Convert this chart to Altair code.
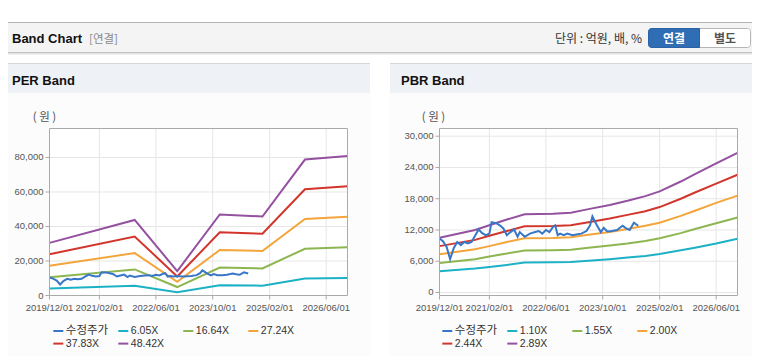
import altair as alt
import pandas as pd

OFF = 8  # page margin: page coordinates -> chart coordinates

# ---------------- data ----------------
band_colors = ["#1db1c6", "#8db650", "#f4a53a", "#d2352b", "#94519f"]
price_color = "#3876c8"

per_dates = ["2019-12-01", "2021-12-01", "2022-12-01", "2023-12-01",
             "2024-12-01", "2025-12-01", "2026-12-01"]
per_labels = ["6.05X", "16.64X", "27.24X", "37.83X", "48.42X"]
per_605 = [4000, 5600, 1900, 5900, 5700, 9900, 10200]
per_1664 = [10600, 15100, 4900, 16200, 15700, 27100, 28000]
per_2724 = [17200, 24600, 7900, 26400, 25800, 44300, 45600]
per_3783 = [23900, 34200, 11000, 36700, 35800, 61600, 63300]
per_4842 = [30500, 43800, 14100, 47000, 45800, 78800, 80900]

pbr_dates = ["2019-12-01", "2020-10-01", "2021-02-01", "2021-07-01", "2021-12-01",
             "2022-08-01", "2023-01-01", "2023-06-01", "2023-12-01", "2024-05-01",
             "2024-10-01", "2025-02-01", "2025-08-01", "2025-12-01", "2026-06-01",
             "2026-12-01"]
pbr_labels = ["1.10X", "1.55X", "2.00X", "2.44X", "2.89X"]
pbr_110 = [4100, 4600, 4900, 5300, 5750, 5800, 5850, 6100, 6400, 6700, 7000, 7400, 8100, 8600, 9400, 10300]
pbr_155 = [5650, 6400, 6900, 7500, 8050, 8100, 8200, 8600, 9000, 9400, 9900, 10400, 11400, 12200, 13300, 14400]
pbr_200 = [7350, 8300, 8900, 9700, 10400, 10450, 10600, 11100, 11600, 12200, 12800, 13400, 14700, 15700, 17200, 18600]
pbr_244 = [8900, 10100, 10900, 11800, 12700, 12750, 12900, 13500, 14200, 14900, 15600, 16400, 18000, 19200, 20900, 22600]
pbr_289 = [10500, 12000, 12900, 14000, 15000, 15100, 15300, 16000, 16800, 17600, 18500, 19400, 21300, 22700, 24800, 26800]

price_dates = ["2019-12-01", "2020-01-01", "2020-02-01", "2020-03-01", "2020-04-01",
               "2020-05-01", "2020-06-01", "2020-07-01", "2020-08-01", "2020-09-01",
               "2020-10-01", "2020-11-01", "2020-12-01", "2021-01-01", "2021-02-01",
               "2021-02-20", "2021-04-01", "2021-05-01", "2021-06-01", "2021-07-01",
               "2021-08-01", "2021-09-01", "2021-10-01", "2021-10-20", "2021-12-01",
               "2022-01-15", "2022-03-01", "2022-04-01", "2022-05-01", "2022-06-01",
               "2022-07-01", "2022-08-01", "2022-08-20", "2022-09-10", "2022-10-01",
               "2022-11-01", "2022-12-01", "2023-01-15", "2023-03-01", "2023-04-01",
               "2023-05-15", "2023-06-15", "2023-07-05", "2023-08-10", "2023-09-15",
               "2023-10-10", "2023-11-10", "2023-12-20", "2024-02-01", "2024-03-20",
               "2024-04-20", "2024-05-20", "2024-06-25", "2024-08-01"]
price_values = [10400, 9800, 8700, 6400, 8500,
                9700, 9100, 9700, 9400, 9700,
                10900, 12100, 11400, 11000, 11300,
                13500, 13300, 12900, 12300, 11000,
                11600, 12100, 10700, 11600, 10700,
                11300, 11600, 11800, 11300, 12000,
                11600, 12600, 12900, 11000, 11300,
                11000, 11300, 11000, 11200, 11300,
                11800, 12900, 14600, 13000, 11600,
                12400, 11700, 11800, 12000, 12800,
                12300, 12000, 13400, 12800]

x_tick_dates = ["2019-12-01", "2021-02-01", "2022-06-01", "2023-10-01",
                "2025-02-01", "2026-06-01"]
per_yticks = [0, 20000, 40000, 60000, 80000]
pbr_yticks = [0, 6000, 12000, 18000, 24000, 30000]
x_start, x_end = "2019-12-01", "2026-12-01"
price_label = "수정주가"

FONT = "Liberation Sans"
KFONT = "'Noto Sans CJK KR'"

PLOT_BOTTOM = 287.5  # chart coords (page 295.5)
PLOT_TOP = 120.5


def bands_df(dates, labels, series):
    rows = []
    for lab, vals, col in zip(labels, series, band_colors):
        for d, v in zip(dates, vals):
            rows.append({"date": d, "value": v, "series": lab, "color": col})
    return pd.DataFrame(rows)


price_df = pd.DataFrame({"date": price_dates, "value": price_values})
one = pd.DataFrame({"k": [0]})


def panel(bands, xr, ydom, yticks):
    xs = alt.Scale(type="utc", domain=[x_start, x_end], range=xr)
    ys = alt.Scale(domain=ydom, range=[PLOT_BOTTOM, PLOT_TOP], nice=False, zero=False)
    X = lambda f: alt.X(f, scale=xs, axis=None)
    Y = lambda f: alt.Y(f, scale=ys, axis=None)

    frame_df = pd.DataFrame({"x0": [x_start], "x1": [x_end],
                             "y0": [ydom[0]], "y1": [ydom[1]]})
    frame_fill = alt.Chart(frame_df).mark_rect(fill="white", strokeWidth=0).encode(
        x=X("x0:T"), x2="x1:T", y=Y("y0:Q"), y2="y1:Q")

    xt = pd.DataFrame({"d": x_tick_dates, "y0": ydom[0], "y1": ydom[1],
                       "lab": [s.replace("-", "/") for s in x_tick_dates]})
    vgrid = alt.Chart(xt).mark_rule(color="#e6e6e6", strokeWidth=1).encode(
        x=X("d:T"), y=Y("y0:Q"), y2="y1:Q")
    yt = pd.DataFrame({"v": yticks, "x0": x_start, "x1": x_end})
    hgrid = alt.Chart(yt).mark_rule(color="#e6e6e6", strokeWidth=1).encode(
        y=Y("v:Q"), x=X("x0:T"), x2="x1:T")

    lines = alt.Chart(bands).mark_line(strokeWidth=2).encode(
        x=X("date:T"), y=Y("value:Q"), detail="series:N",
        color=alt.Color("color:N", scale=None))
    price = alt.Chart(price_df).mark_line(strokeWidth=2, color=price_color).encode(
        x=X("date:T"), y=Y("value:Q"))
    frame_stroke = alt.Chart(frame_df).mark_rect(fillOpacity=0, stroke="#aaaaaa",
                                                 strokeWidth=1).encode(
        x=X("x0:T"), x2="x1:T", y=Y("y0:Q"), y2="y1:Q")

    # axes: ticks and labels placed through the scales
    xticks = alt.Chart(xt).mark_rule(color="#aaaaaa", strokeWidth=1).encode(
        x=X("d:T"), y=alt.value(PLOT_BOTTOM), y2=alt.value(PLOT_BOTTOM + 4))
    xlabels = alt.Chart(xt).mark_text(font=FONT, fontSize=9.5, color="#555555",
                                      align="center", baseline="top").encode(
        x=X("d:T"), y=alt.value(PLOT_BOTTOM + 7), text="lab:N")
    yticks_m = alt.Chart(yt).mark_rule(color="#aaaaaa", strokeWidth=1).encode(
        y=Y("v:Q"), x=alt.value(xr[0] - 4), x2=alt.value(xr[0]))
    ylabels = alt.Chart(yt).mark_text(font=FONT, fontSize=9.5, color="#555555",
                                      align="right", baseline="middle").encode(
        y=Y("v:Q"), x=alt.value(xr[0] - 6), text=alt.Text("v:Q", format=","))
    return alt.layer(frame_fill, vgrid, hgrid, lines, price, frame_stroke,
                     xticks, xlabels, yticks_m, ylabels)


per_panel = panel(bands_df(per_dates, per_labels,
                           [per_605, per_1664, per_2724, per_3783, per_4842]),
                  [41.5, 339.5], [0, 96800], per_yticks)
pbr_panel = panel(bands_df(pbr_dates, pbr_labels,
                           [pbr_110, pbr_155, pbr_200, pbr_244, pbr_289]),
                  [431.5, 729.5], [-576, 31478], pbr_yticks)


# ---------------- decorations (page coordinates) ----------------
def rect(x0, y0, x1, y1, **kw):
    return alt.Chart(one).mark_rect(**kw).encode(
        x=alt.value(x0 - OFF), x2=alt.value(x1 - OFF),
        y=alt.value(y0 - OFF), y2=alt.value(y1 - OFF))


def text(t, x, y, **kw):
    return alt.Chart(one).mark_text(text=t, **kw).encode(
        x=alt.value(x - OFF), y=alt.value(y - OFF))


deco = [
    rect(0, 22, 770, 23, fill="#b3b3b3"),
    rect(0, 23, 770, 52, fill="#f4f4f4"),
    rect(0, 52, 770, 53, fill="#c4c4c4"),
    rect(0, 53, 770, 54, fill="#e2e2e2"),
    rect(0, 54, 770, 55, fill="#f2f2f2"),
    text("Band Chart", 12, 43, font=FONT, fontSize=13, fontWeight="bold",
         color="#111111", align="left", baseline="alphabetic"),
    text("[연결]", 89, 42.5, font=KFONT, fontSize=11.5, color="#8a8a8a",
         align="left", baseline="alphabetic"),
    text("단위 : 억원, 배, %", 642, 42.5, font=KFONT, fontSize=12,
         color="#333333", align="right", baseline="alphabetic"),
    rect(648.5, 28.5, 750.5, 47.5, fill="white", stroke="#b5b5b5", strokeWidth=1,
         cornerRadius=3),
    rect(648.5, 28.5, 699.5, 47.5, fill="#2f6db4", stroke="#2a62a3", strokeWidth=1,
         cornerRadiusTopLeft=3, cornerRadiusBottomLeft=3),
    text("연결", 674, 38.5, font=KFONT, fontSize=12, fontWeight="bold",
         color="white", align="center", baseline="middle"),
    text("별도", 725, 38.5, font=KFONT, fontSize=12, fontWeight="bold",
         color="#555555", align="center", baseline="middle"),
    # panels
    rect(0, 63, 370, 64, fill="#d6d6d6"),
    rect(0, 64, 370, 93, fill="#eef1f6"),
    rect(0, 93, 370, 370, fill="#fcfcfc"),
    rect(390, 63, 770, 64, fill="#d6d6d6"),
    rect(390, 64, 770, 93, fill="#eef1f6"),
    rect(390, 93, 770, 370, fill="#fcfcfc"),
    text("PER Band", 12, 85, font=FONT, fontSize=13, fontWeight="bold",
         color="#111111", align="left", baseline="alphabetic"),
    text("PBR Band", 401, 85, font=FONT, fontSize=13, fontWeight="bold",
         color="#111111", align="left", baseline="alphabetic"),
    text("( 원 )", 44.5, 117.5, font=KFONT, fontSize=11.5, color="#555555",
         align="center", baseline="middle"),
    text("( 원 )", 433.5, 117.5, font=KFONT, fontSize=11.5, color="#555555",
         align="center", baseline="middle"),
]


# ---------------- legends ----------------
def legend(labels, x_first):
    labs = [price_label] + labels
    cols = [price_color] + band_colors
    df = pd.DataFrame({"label": labs, "color": cols,
                       "kor": [True] + [False] * len(labels)})
    idx = range(len(labs))
    df["sx"] = [x_first - OFF + (i % 4) * 65 for i in idx]
    df["sx2"] = df["sx"] + 10
    df["tx"] = df["sx"] + 12.5
    df["sy"] = [331 - OFF + (i // 4) * 12.6 for i in idx]
    sym = alt.Chart(df).mark_rule(strokeWidth=2).encode(
        x=alt.X("sx:Q", scale=None), x2="sx2:Q",
        y=alt.Y("sy:Q", scale=None),
        color=alt.Color("color:N", scale=None))
    txt_k = alt.Chart(df[df["kor"]]).mark_text(
        font=KFONT, fontSize=11.5, color="#333333", align="left",
        baseline="middle").encode(
        x=alt.X("tx:Q", scale=None), y=alt.Y("sy:Q", scale=None), text="label:N")
    txt_l = alt.Chart(df[~df["kor"]]).mark_text(
        font=FONT, fontSize=10.5, color="#333333", align="left",
        baseline="middle").encode(
        x=alt.X("tx:Q", scale=None), y=alt.Y("sy:Q", scale=None), text="label:N")
    return [sym, txt_k, txt_l]


chart = alt.layer(
    *deco, per_panel, pbr_panel, *legend(per_labels, 53.3), *legend(pbr_labels, 442.3)
).resolve_scale(
    x="independent", y="independent"
).properties(
    width=744, height=348, padding=0,
    autosize=alt.AutoSizeParams(type="none")
).configure_view(stroke=None)

chart.save("out.html", embed_options={"renderer": "svg", "actions": False})
